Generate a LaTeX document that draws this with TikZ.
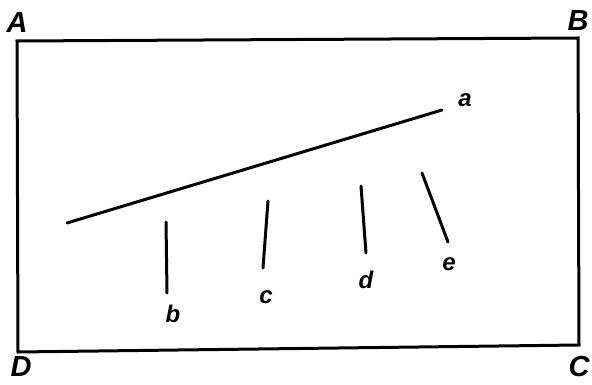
\documentclass[tikz,border=0pt]{standalone}
\usepackage{fontspec}
\setmainfont{Liberation Sans}
\begin{document}
\begin{tikzpicture}[x=1pt,y=-1pt,
  thickline/.style={line width=3pt,line cap=round,line join=miter},
  caplabel/.style={font=\fontsize{29}{29}\selectfont\bfseries\itshape,inner sep=0pt,anchor=center},
  smalllabel/.style={font=\fontsize{24}{24}\selectfont\bfseries\itshape,inner sep=0pt,anchor=center}]
\useasboundingbox (0,0) rectangle (592,385);
% rectangle corners
\coordinate (pA) at (17,41);
\coordinate (pB) at (578,38);
\coordinate (pC) at (579,345);
\coordinate (pD) at (18,352);
\draw[thickline,line cap=butt] (pA) -- (pB) -- (pC) -- (pD) -- cycle;
% corner labels
\node[caplabel] (lA) at (17,23) {A};
\node[caplabel] (lB) at (578,21) {B};
\node[caplabel] (lD) at (21,367) {D};
\node[caplabel] (lC) at (579,367) {C};
% main line a
\coordinate (a0) at (67,223);
\coordinate (a1) at (442,110);
\draw[thickline] (a0) -- (a1);
% short lines
\coordinate (b0) at (166,222);
\coordinate (b1) at (167,293);
\coordinate (c0) at (268,201);
\coordinate (c1) at (263,268);
\coordinate (d0) at (361,186);
\coordinate (d1) at (366,253);
\coordinate (e0) at (422,173);
\coordinate (e1) at (448,242);
\draw[thickline] (b0) -- (b1);
\draw[thickline] (c0) -- (c1);
\draw[thickline] (d0) -- (d1);
\draw[thickline] (e0) -- (e1);
% labels
\node[smalllabel] (la) at (465,100) {a};
\node[smalllabel] (lb) at (173,314) {b};
\node[smalllabel] (lc) at (266,297) {c};
\node[smalllabel] (ld) at (366,280) {d};
\node[smalllabel] (le) at (449,264) {e};
\end{tikzpicture}
\end{document}
